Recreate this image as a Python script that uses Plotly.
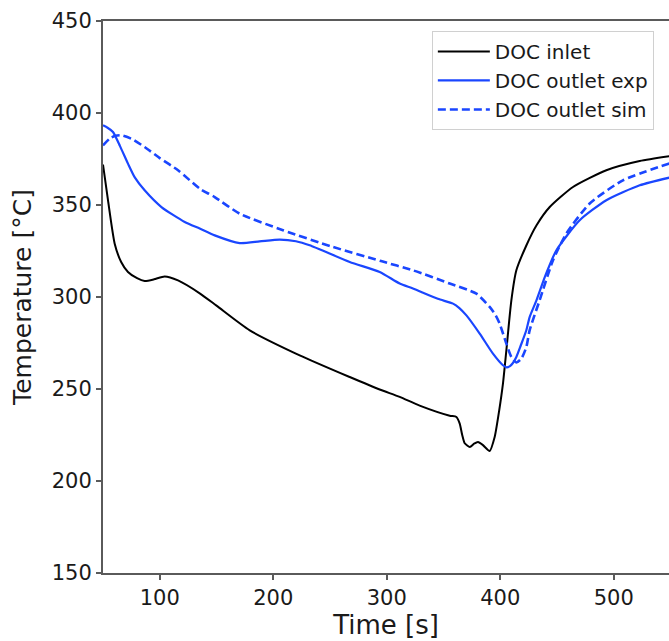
import plotly.graph_objects as go

# DOC inlet (black)
inlet_t = [50, 54.4, 60.3, 66, 72, 80, 86.7, 95, 104.4, 116.1, 135.2, 150, 179.3, 223.3,
           267.4, 293.8, 311.4, 329.0, 355.5, 361.4, 364.3, 366.5, 368.7, 373.2, 377,
           380.4, 384.8, 390.7, 395.1, 399, 402.4, 405.4, 409.8, 414.2, 423.0, 432,
           443.6, 464.1, 493.5, 522.9, 550]
inlet_T = [372, 352.6, 329, 319, 313.6, 310.2, 308.7, 309.6, 311.2, 309, 302, 295.3, 281.9,
           268.3, 256.5, 249.7, 245.7, 241, 235.5, 234.8, 231.2, 225, 220.5, 218.5, 220.3,
           221.2, 219.5, 216.3, 223.9, 238, 252.9, 271, 298.2, 314.5, 328, 339,
           348.9, 359.8, 368.9, 373.9, 376.6]

# DOC outlet exp (solid blue)
exp_t = [50, 54, 58.8, 65, 72.0, 78, 86.7, 101.5, 122.0, 135.2, 148.4, 170.4, 188, 205.7,
         220, 232.1, 267.4, 293.8, 311.4, 323.1, 345, 358.4, 364, 370.2, 381.9, 393.6,
         402.4, 405.5, 408.3, 411, 414.2, 418, 423.0, 425.9, 431.9, 440, 449.5, 470.0,
         493.5, 522.9, 550]
exp_T = [393.3, 392, 389.7, 382, 372.5, 365, 358, 348.9, 340.8, 337.2, 333.5, 329.3, 330.2,
         331.2, 330.3, 328.1, 319, 313.6, 307.3, 304.6, 299, 296.4, 294, 290, 280.1, 269.2,
         262.9, 261.8, 262.3, 264, 267.4, 273.5, 281.9, 289.1, 298.2, 312, 325.4, 341.7,
         352.6, 360.7, 365]

# DOC outlet sim (dashed blue)
sim_t = [50, 55.9, 61, 66.2, 75, 86.7, 100, 116.1, 135.2, 148.4, 170.4, 208.6, 252.6, 295,
         323.1, 355.5, 379.0, 390.7, 396, 399.5, 405.4, 409.8, 414.2, 418.6, 423.0, 425.9,
         434.7, 446.5, 458.3, 478.8, 508.1, 550]
sim_T = [382.4, 386.1, 387.6, 387.9, 386, 381.5, 375.5, 368.9, 358.9, 354.3, 345.3, 336.3,
         327.2, 319.5, 314.5, 307.3, 301.8, 294.6, 290, 285.5, 274.7, 267.4, 264.4, 266.5,
         272.8, 281.9, 298.2, 320, 334.5, 350.8, 363.4, 372.8]

x_ticks = [100, 200, 300, 400, 500]
y_ticks = [150, 200, 250, 300, 350, 400, 450]

BLUE = "#1a46ff"
FONT = "DejaVu Sans"
AX = "#5a5a5a"
TXT = "#1a1a1a"

fig = go.Figure()
fig.add_trace(go.Scatter(x=inlet_t, y=inlet_T, mode="lines", name="DOC inlet",
                         legendgroup="a",
                         line=dict(color="#000000", width=2, shape="spline", smoothing=0.6)))
fig.add_trace(go.Scatter(x=exp_t, y=exp_T, mode="lines", name="DOC outlet exp",
                         legendgroup="b",
                         line=dict(color=BLUE, width=2.2, shape="spline", smoothing=0.6)))
fig.add_trace(go.Scatter(x=sim_t, y=sim_T, mode="lines", name="DOC outlet sim",
                         legendgroup="c",
                         line=dict(color=BLUE, width=2.6, dash="8px,4px", shape="spline",
                                   smoothing=0.6)))

fig.update_layout(
    width=669, height=641,
    margin=dict(l=103, r=0, t=21, b=68),
    plot_bgcolor="white", paper_bgcolor="white",
    font=dict(family=FONT, color=TXT, size=20),
    showlegend=True,
    legend=dict(x=0.581, y=0.982, xanchor="left", yanchor="top",
                bgcolor="white", bordercolor="#d0d0d0", borderwidth=1,
                font=dict(family=FONT, size=20, color=TXT),
                itemwidth=52, tracegroupgap=4, traceorder="normal"),
    xaxis=dict(range=[50, 548.7], tickvals=x_ticks, showgrid=False, zeroline=False,
               showline=True, linecolor=AX, linewidth=2, mirror=True,
               ticks="outside", ticklen=5, tickwidth=1.5, tickcolor=AX,
               tickfont=dict(family=FONT, size=21, color=TXT),
               title=dict(text="Time [s]", font=dict(family=FONT, size=26, color=TXT),
                          standoff=3)),
    yaxis=dict(range=[150, 450], tickvals=y_ticks, showgrid=False, zeroline=False,
               showline=True, linecolor=AX, linewidth=2, mirror=False,
               ticks="outside", ticklen=5, tickwidth=1.5, tickcolor=AX,
               tickfont=dict(family=FONT, size=21, color=TXT),
               title=dict(text="Temperature [°C]",
                          font=dict(family=FONT, size=25, color=TXT), standoff=13)),
)

fig.write_html("out.html")
